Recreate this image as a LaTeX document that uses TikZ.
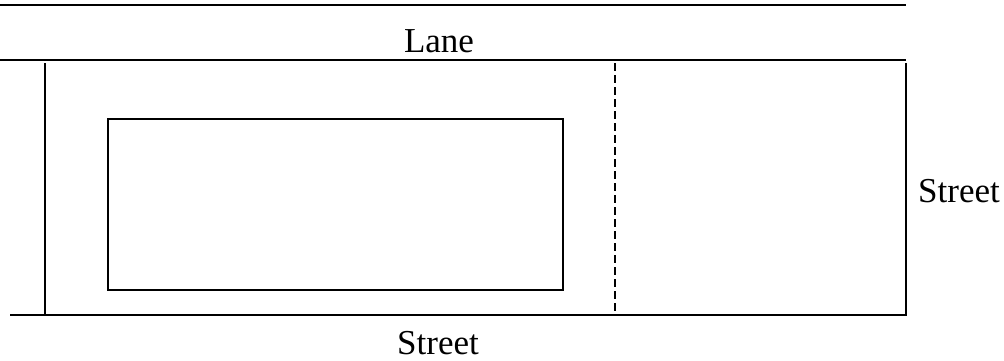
\documentclass[tikz,border=0pt]{standalone}
\usepackage{fontspec}
\setmainfont{Liberation Serif}
\begin{document}
\begin{tikzpicture}[x=1pt,y=-1pt,
  edge/.style={line width=1.8pt},
  lbl/.style={font=\fontsize{35}{42}\selectfont, inner sep=0pt, anchor=base}]
\useasboundingbox (0,0) rectangle (1004,360);
% lane boundaries
\draw[edge] (0,5) -- (906,5);
\draw[edge] (0,60) -- (906,60);
% lot
\draw[edge] (45,63) -- (45,315);
\draw[edge] (10,315) -- (906,315) -- (906,63);
\draw[edge, dash pattern=on 8pt off 4pt] (615,63) -- (615,315);
% building
\draw[edge] (108,119) rectangle (563,290);
% labels
\node[lbl] (lane) at (439,52) {Lane};
\node[lbl] (streetB) at (438,354) {Street};
\node[lbl] (streetR) at (959,202) {Street};
\end{tikzpicture}
\end{document}
